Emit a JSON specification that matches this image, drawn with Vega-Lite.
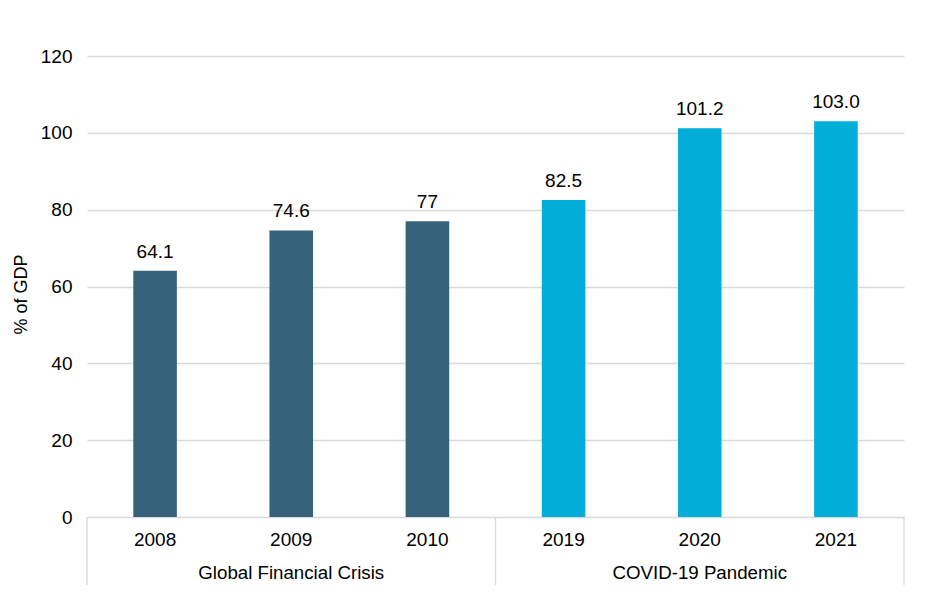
{
  "$schema": "https://vega.github.io/schema/vega-lite/v6.json",
  "autosize": {"type": "none"},
  "padding": {"left": 87, "top": 56, "right": 37, "bottom": 19},
  "width": 817,
  "height": 529,
  "background": "white",
  "config": {"view": {"stroke": null}, "font": "Liberation Sans"},
  "data": {
    "values": [
      {"year": "2008", "value": 64.1, "label": "64.1", "group": "Global Financial Crisis"},
      {"year": "2009", "value": 74.6, "label": "74.6", "group": "Global Financial Crisis"},
      {"year": "2010", "value": 77, "label": "77", "group": "Global Financial Crisis"},
      {"year": "2019", "value": 82.5, "label": "82.5", "group": "COVID-19 Pandemic"},
      {"year": "2020", "value": 101.2, "label": "101.2", "group": "COVID-19 Pandemic"},
      {"year": "2021", "value": 103.0, "label": "103.0", "group": "COVID-19 Pandemic"}
    ]
  },
  "encoding": {
    "x": {
      "field": "year", "type": "ordinal",
      "scale": {"domain": ["2008", "2009", "2010", "2019", "2020", "2021"], "paddingInner": 0, "paddingOuter": 0},
      "axis": null
    }
  },
  "layer": [
    {
      "mark": {"type": "bar", "width": {"band": 0.32}},
      "encoding": {
        "y": {
          "field": "value", "type": "quantitative",
          "scale": {"domain": [-17.7, 120], "nice": false, "zero": false},
          "axis": {
            "values": [0, 20, 40, 60, 80, 100, 120],
            "title": "% of GDP",
            "titleFontSize": 18, "titleFontWeight": "normal", "titleColor": "black",
            "titleX": -57, "titleY": 238, "titleAngle": -90, "titleBaseline": "bottom", "titleAlign": "center",
            "domain": false, "ticks": false,
            "grid": true, "gridColor": "#d9d9d9", "gridWidth": 1.3,
            "labelFontSize": 19, "labelColor": "black", "labelPadding": 15
          }
        },
        "color": {
          "field": "group", "type": "nominal",
          "scale": {"domain": ["Global Financial Crisis", "COVID-19 Pandemic"], "range": ["#37637a", "#00aed8"]},
          "legend": null
        }
      }
    },
    {
      "mark": {"type": "text", "baseline": "bottom", "dy": -9, "fontSize": 19, "color": "black"},
      "encoding": {
        "y": {"field": "value", "type": "quantitative"},
        "text": {"field": "label"}
      }
    },
    {
      "mark": {"type": "text", "baseline": "middle", "fontSize": 19, "color": "black"},
      "encoding": {
        "y": {"datum": -6.1},
        "text": {"field": "year"}
      }
    },
    {
      "transform": [{"filter": "datum.year == '2009' || datum.year == '2020'"}],
      "mark": {"type": "text", "baseline": "middle", "fontSize": 18.7, "color": "black"},
      "encoding": {
        "y": {"datum": -14.6},
        "text": {"field": "group"}
      }
    },
    {
      "transform": [{"filter": "datum.year == '2008' || datum.year == '2019'"}],
      "mark": {"type": "rule", "color": "#d9d9d9", "strokeWidth": 1.3},
      "encoding": {
        "x": {"field": "year", "type": "ordinal", "bandPosition": 0},
        "y": {"datum": 0},
        "y2": {"datum": -17.7}
      }
    },
    {
      "transform": [{"filter": "datum.year == '2021'"}],
      "mark": {"type": "rule", "color": "#d9d9d9", "strokeWidth": 1.3},
      "encoding": {
        "x": {"field": "year", "type": "ordinal", "bandPosition": 1},
        "y": {"datum": 0},
        "y2": {"datum": -17.7}
      }
    }
  ]
}
